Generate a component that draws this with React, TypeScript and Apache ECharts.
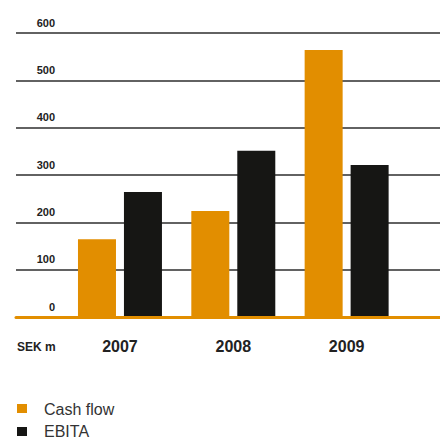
import React, { useEffect, useRef } from "react";
import * as echarts from "echarts";

const years = ["2007", "2008", "2009"];
const cashFlow = [164, 224, 564];
const ebita = [264, 351, 321];
const yTicks = { min: 0, max: 600, interval: 100 };
const seriesNames = ["Cash flow", "EBITA"];

const ORANGE = "#E28E00";
const BLACK = "#161614";
const NONE = "rgba(0,0,0,0)";
const FONT = "'Liberation Sans', Arial, sans-serif";
const seriesColors = [ORANGE, BLACK];

export default function App() {
  const ref = useRef<HTMLDivElement>(null);
  useEffect(() => {
    if (!ref.current) return;
    const chart = echarts.init(ref.current, null, { renderer: "svg" });
    const legendItems = seriesNames.flatMap((name, i) => [
      {
        type: "rect",
        shape: { x: 17, y: 404 + i * 23, width: 10, height: 9 },
        style: { fill: seriesColors[i] },
      },
      {
        type: "text",
        x: 44,
        y: 409 + i * 22,
        style: {
          text: name,
          fontSize: 16,
          lineHeight: 15,
          fill: "#333333",
          fontFamily: FONT,
          verticalAlign: "middle",
          align: "left",
        },
      },
    ]);
    const hiddenLine = { show: false, lineStyle: { color: NONE, width: 0 } };
    chart.setOption({
      animation: false,
      backgroundColor: "#ffffff",
      textStyle: { fontFamily: FONT },
      grid: [
        { left: 16, right: 0, top: 33, height: 284, show: false, borderWidth: 0 },
        { left: 63.3, width: 340, top: 33, height: 284, show: false, borderWidth: 0 },
      ],
      xAxis: [
        {
          gridIndex: 0,
          type: "value",
          min: 0,
          max: 1,
          axisLine: { show: true, onZero: false, lineStyle: { color: ORANGE, width: 3 } },
          axisTick: hiddenLine,
          minorTick: hiddenLine,
          axisLabel: { show: false },
          splitLine: hiddenLine,
          minorSplitLine: hiddenLine,
          splitArea: { show: false },
          z: 5,
        },
        {
          gridIndex: 1,
          type: "category",
          data: years,
          axisLine: hiddenLine,
          axisTick: hiddenLine,
          splitLine: hiddenLine,
          splitArea: { show: false },
          axisLabel: {
            margin: 21,
            fontSize: 16,
            fontWeight: "bold",
            color: "#222222",
            fontFamily: FONT,
          },
        },
      ],
      yAxis: [
        {
          gridIndex: 0,
          type: "value",
          position: "right",
          min: yTicks.min,
          max: yTicks.max,
          interval: yTicks.interval,
          axisLine: { show: false, onZero: false, lineStyle: { color: NONE, width: 0 } },
          axisTick: hiddenLine,
          minorTick: hiddenLine,
          minorSplitLine: hiddenLine,
          splitArea: { show: false },
          splitLine: { show: true, lineStyle: { color: "#2e2e2e", width: 1.5 } },
          axisLabel: {
            margin: -385,
            align: "right",
            verticalAlign: "bottom",
            padding: [0, 0, 5, 0],
            fontSize: 11,
            fontWeight: "bold",
            color: "#222222",
            fontFamily: FONT,
          },
        },
        {
          gridIndex: 1,
          type: "value",
          min: yTicks.min,
          max: yTicks.max,
          interval: yTicks.interval,
          show: false,
          axisLine: hiddenLine,
          axisTick: hiddenLine,
          splitLine: hiddenLine,
        },
      ],
      graphic: [
        {
          type: "text",
          left: 17,
          top: 341,
          style: {
            text: "SEK m",
            fontSize: 12,
            fontWeight: "bold",
            fill: "#222222",
            fontFamily: FONT,
          },
        },
        ...legendItems,
      ],
      series: [
        {
          name: seriesNames[0],
          type: "bar",
          xAxisIndex: 1,
          yAxisIndex: 1,
          data: cashFlow,
          barWidth: 38,
          barGap: "21%",
          itemStyle: { color: ORANGE },
        },
        {
          name: seriesNames[1],
          type: "bar",
          xAxisIndex: 1,
          yAxisIndex: 1,
          data: ebita,
          barWidth: 38,
          barGap: "21%",
          itemStyle: { color: BLACK },
        },
      ],
    });
    return () => chart.dispose();
  }, []);
  return (
    <div
      ref={ref}
      style={{ position: "fixed", left: 0, top: 0, width: 440, height: 439 }}
    />
  );
}
